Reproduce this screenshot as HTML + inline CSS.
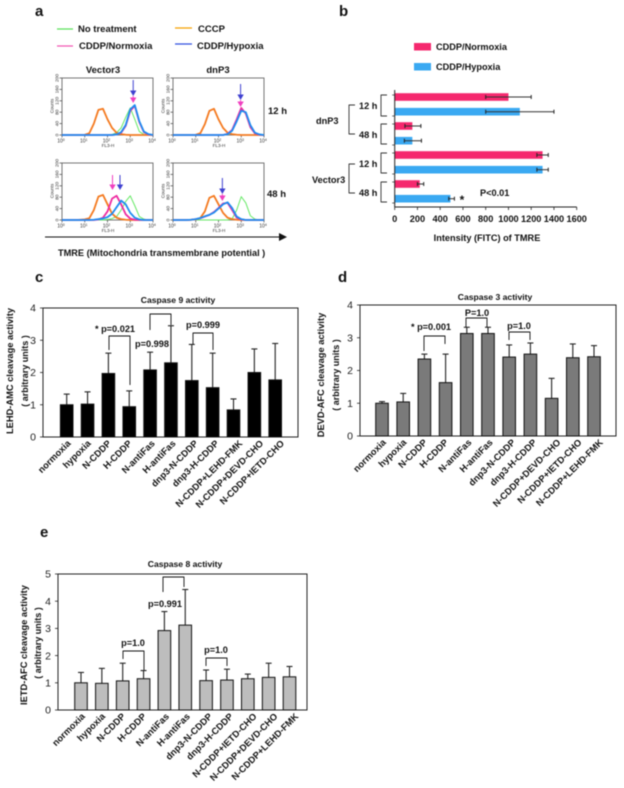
<!DOCTYPE html>
<html>
<head>
<meta charset="utf-8">
<style>
html,body{margin:0;padding:0;background:#fff;}
svg{display:block;filter:blur(0.4px);}
text{font-family:"Liberation Sans",sans-serif;font-weight:bold;fill:#111;}
</style>
</head>
<body>
<svg id="fig" width="624" height="788" viewBox="0 0 624 788" xmlns="http://www.w3.org/2000/svg"></svg>
<script>
// Panel a: flow cytometry histograms (counts at each log10 FL3-H step)
const logFL = [0,0.2,0.4,0.6,0.8,1,1.2,1.4,1.6,1.8,2,2.2,2.4,2.6,2.8,3,3.2,3.4,3.6,3.8,4];
const v12Green = [0,0,0,0,0,0,0,0,0,0,0,2,8,25,62,95,55,12,2,0,0];
const v12Cccp  = [0,0,0,0,0,1,6,40,88,92,55,25,8,3,1,0,0,0,0,0,0];
const v12Pink  = [0,0,0,0,0,0,0,0,0,0,0,0,2,8,32,85,102,45,10,2,0];
const v12Blue  = [0,0,0,0,0,0,0,0,0,0,0,0,2,10,35,90,105,48,12,3,0];
const d12Green = [0,0,0,0,0,0,0,0,0,0,0,1,4,15,50,88,75,25,5,1,0];
const d12Cccp  = [0,0,0,0,0,1,6,38,85,92,55,25,8,3,1,0,0,0,0,0,0];
const d12Pink  = [0,0,0,0,0,0,0,0,0,0,0,0,4,18,55,95,75,28,6,1,0];
const d12Blue  = [0,0,0,0,0,0,0,0,0,0,0,0,3,15,48,85,80,35,8,2,0];
const v48Green = [0,0,0,0,0,0,0,0,0,0,2,5,12,35,65,85,50,12,3,0,0];
const v48Cccp  = [0,0,0,0,1,2,6,35,82,88,55,22,8,3,1,0,0,0,0,0,0];
const v48Pink  = [0,0,0,0,0,0,0,0,2,8,30,75,85,55,20,5,1,0,0,0,0];
const v48Blue  = [0,0,0,0,0,0,0,1,3,5,10,22,45,68,55,25,8,2,0,0,0];
const d48Green = [0,0,0,0,0,0,0,0,0,0,0,0,0,4,35,82,60,15,3,0,0];
const d48Cccp  = [0,0,0,0,1,2,7,30,78,85,55,25,8,3,1,0,0,0,0,0,0];
const d48Pink  = [0,0,0,0,1,3,6,12,18,28,42,58,60,35,8,2,0,0,0,0,0];
const d48Blue  = [0,0,0,0,1,3,7,13,18,26,40,55,62,42,12,3,0,0,0,0,0];
const histYTicks = [0,40,80,120,160,200];
const histXTicks = [0,1,2,3,4];

// Panel b: horizontal bars
const bCategories = ['dnP3 12 h','dnP3 48 h','Vector3 12 h','Vector3 48 h'];
const bNormoxia    = [1000,155,1300,220];
const bNormoxiaLo  = [800,90,1250,200];
const bNormoxiaHi  = [1200,230,1350,255];
const bHypoxia     = [1100,155,1300,490];
const bHypoxiaLo   = [800,85,1250,475];
const bHypoxiaHi   = [1400,235,1350,525];
const bTicks = [0,200,400,600,800,1000,1200,1400,1600];

// Panel c: caspase 9
const cLabels = ['normoxia','hypoxia','N-CDDP','H-CDDP','N-antiFas','H-antiFas','dnp3-N-CDDP','dnp3-H-CDDP','N-CDDP+LEHD-FMK','N-CDDP+DEVD-CHO','N-CDDP+IETD-CHO'];
const cValues = [1.0,1.02,1.97,0.94,2.08,2.3,1.75,1.53,0.84,2.0,1.77];
const cErrTop = [1.33,1.4,2.6,1.43,2.63,3.45,2.87,2.6,1.18,2.73,2.9];
const cTicks = [0,1,2,3,4];

// Panel d: caspase 3
const dLabels = ['normoxia','hypoxia','N-CDDP','H-CDDP','N-antiFas','H-antiFas','dnp3-N-CDDP','dnp3-H-CDDP','N-CDDP+DEVD-CHO','N-CDDP+IETD-CHO','N-CDDP+LEHD-FMK'];
const dValues = [1.0,1.04,2.35,1.63,3.13,3.13,2.41,2.5,1.15,2.39,2.42];
const dErrTop = [1.05,1.3,2.5,2.5,3.32,3.32,2.78,2.84,1.76,2.81,2.76];
const dTicks = [0,1,2,3,4];

// Panel e: caspase 8
const eLabels = ['normoxia','hypoxia','N-CDDP','H-CDDP','N-antiFas','H-antiFas','dnp3-N-CDDP','dnp3-H-CDDP','N-CDDP+IETD-CHO','N-CDDP+DEVD-CHO','N-CDDP+LEHD-FMK'];
const eValues = [1.0,0.98,1.07,1.15,2.92,3.12,1.08,1.1,1.15,1.2,1.22];
const eErrTop = [1.38,1.53,1.72,1.45,3.62,4.43,1.47,1.5,1.32,1.72,1.6];
const eTicks = [0,1,2,3,4,5];

const NS = 'http://www.w3.org/2000/svg';
const svg = document.getElementById('fig');

function mk(tag, name, attrs, parent) {
  const el = document.createElementNS(NS, tag);
  
  
  for (const k in attrs) el.setAttribute(k, attrs[k]);
  (parent || svg).appendChild(el);
  return el;
}
function txt(name, s, x, y, size, opts) {
  const o = opts || {};
  const a = {x: x, y: y, 'font-size': size};
  if (o.anchor) a['text-anchor'] = o.anchor;
  if (o.weight) a.style = 'font-weight:' + o.weight + ';fill:' + (o.fill || '#111');
  if (o.rot !== undefined) a.transform = 'rotate(' + o.rot + ' ' + x + ' ' + y + ')';
  const el = mk('text', name, a, o.parent);
  el.textContent = s;
  return el;
}
function line(name, x1, y1, x2, y2, color, w, parent) {
  return mk('line', name, {x1: x1, y1: y1, x2: x2, y2: y2, stroke: color, 'stroke-width': w}, parent);
}
function poly(name, pts, color, w, parent) {
  return mk('polyline', name, {points: pts.map(p => p.join(',')).join(' '), fill: 'none', stroke: color, 'stroke-width': w, 'stroke-linejoin': 'round'}, parent);
}

// ---------- panel letters ----------
txt('panel-label-a', 'a', 35, 16, 15);
txt('panel-label-b', 'b', 339, 16, 15);
txt('panel-label-c', 'c', 35, 282, 15);
txt('panel-label-d', 'd', 338, 282, 15);
txt('panel-label-e', 'e', 40, 537, 15);

// ---------- panel a ----------
const COL = {green: '#66e866', cccp: '#f47a20', pink: '#ee2aa0', blue: '#1e8cf0'};
line('legend-line-no-treatment', 57, 29, 73, 29, '#55e055', 1.2);
txt('legend-no-treatment', 'No treatment', 78, 32, 9.5);
line('legend-line-cccp', 175, 28, 192, 28, '#f5a000', 1.2);
txt('legend-cccp', 'CCCP', 198, 32, 9.5);
line('legend-line-cddp-normoxia', 57, 46, 73, 46, '#f050b0', 1.2);
txt('legend-cddp-normoxia', 'CDDP/Normoxia', 79, 49, 9.5);
line('legend-line-cddp-hypoxia', 175, 44, 192, 44, '#3050e0', 1.2);
txt('legend-cddp-hypoxia', 'CDDP/Hypoxia', 197, 49, 9.5);
txt('column-title-vector3', 'Vector3', 103, 73, 9.5, {anchor: 'middle'});
txt('column-title-dnp3', 'dnP3', 218, 73, 9.5, {anchor: 'middle'});
txt('row-label-12h', '12 h', 268, 114, 9.5);
txt('row-label-48h', '48 h', 267, 197, 9.5);

function arrow(name, x, y1, y2, color, headW) {
  const g = mk('g', name, {});
  line(name + '-shaft', x, y1, x, y2 - 4, color, 1, g);
  mk('polygon', name + '-head', {points: (x - headW) + ',' + (y2 - 5.5) + ' ' + (x + headW) + ',' + (y2 - 5.5) + ' ' + x + ',' + y2, fill: color}, g);
}

function histogram(name, x0, y0, series, arrows) {
  const W = 91, H = 57;
  const sx = v => x0 + v / 4 * W;
  const sy = v => y0 + H - v / 200 * H;
  const g = mk('g', name, {});
  mk('rect', name + '-frame', {x: x0, y: y0, width: W, height: H, fill: 'none', stroke: '#666', 'stroke-width': 0.9}, g);
  histYTicks.forEach(t => {
    line(name + '-ytick', x0 - 2.5, sy(t), x0, sy(t), '#444', 0.7, g);
    txt(name + '-ytick-label', String(t), x0 - 3.5, sy(t), 4.8, {anchor: 'middle', rot: -90, weight: 'normal', fill: '#333', parent: g});
  });
  histXTicks.forEach(t => {
    line(name + '-xtick', sx(t), y0 + H, sx(t), y0 + H + 2.5, '#444', 0.7, g);
    const lab = txt(name + '-xtick-label', '10', sx(t) - 1, y0 + H + 7.5, 5, {anchor: 'middle', weight: 'normal', fill: '#333', parent: g});
    const sup = document.createElementNS(NS, 'tspan');
    sup.setAttribute('dy', '-1.5');
    sup.setAttribute('font-size', '3.6');
    sup.textContent = String(t);
    lab.appendChild(sup);
  });
  txt(name + '-x-title', 'FL3-H', x0 + 46, y0 + H + 12, 4.6, {anchor: 'middle', weight: 'normal', fill: '#333', parent: g});
  txt(name + '-y-title', 'Counts', x0 - 8.5, y0 + 28, 4.6, {anchor: 'middle', rot: -90, weight: 'normal', fill: '#333', parent: g});
  series.forEach(s => {
    poly(name + '-' + s.key, logFL.map((v, i) => [sx(v), sy(s.data[i])]), COL[s.key], s.w, g);
  });
  arrows.forEach(a => arrow(name + '-arrow-' + a.c, sx(a.log), a.y1, a.y2, a.c === 'pink' ? '#f040c0' : '#3f40d0', 3.2));
}
histogram('histogram-vector3-12h', 62, 78, [
  {key: 'green', data: v12Green, w: 1},
  {key: 'cccp', data: v12Cccp, w: 1.8},
  {key: 'pink', data: v12Pink, w: 1.8},
  {key: 'blue', data: v12Blue, w: 1.8}],
  [{log: 3.13, c: 'blue', y1: 80, y2: 96}, {log: 3.13, c: 'pink', y1: 96, y2: 103}]);
histogram('histogram-dnp3-12h', 173, 78, [
  {key: 'green', data: d12Green, w: 1},
  {key: 'cccp', data: d12Cccp, w: 1.8},
  {key: 'pink', data: d12Pink, w: 1.8},
  {key: 'blue', data: d12Blue, w: 1.8}],
  [{log: 2.97, c: 'blue', y1: 84, y2: 100}, {log: 2.97, c: 'pink', y1: 100, y2: 107}]);
histogram('histogram-vector3-48h', 62, 163, [
  {key: 'green', data: v48Green, w: 1},
  {key: 'cccp', data: v48Cccp, w: 1.8},
  {key: 'pink', data: v48Pink, w: 1.8},
  {key: 'blue', data: v48Blue, w: 1.8}],
  [{log: 2.22, c: 'pink', y1: 175, y2: 190}, {log: 2.55, c: 'blue', y1: 175, y2: 190}]);
histogram('histogram-dnp3-48h', 173, 163, [
  {key: 'green', data: d48Green, w: 1},
  {key: 'cccp', data: d48Cccp, w: 1.8},
  {key: 'pink', data: d48Pink, w: 1.8},
  {key: 'blue', data: d48Blue, w: 1.8}],
  [{log: 2.17, c: 'blue', y1: 178, y2: 194}, {log: 2.17, c: 'pink', y1: 194, y2: 201}]);

line('x-direction-arrow-shaft', 45, 237, 280, 237, '#111', 0.9);
mk('polygon', 'x-direction-arrow-head', {points: '279,233 287,237 279,241', fill: '#111'});
txt('tmre-axis-title', 'TMRE (Mitochondria  transmembrane potential )', 58, 256, 9.2).setAttribute('xml:space', 'preserve');

// ---------- panel b ----------
const bx = v => 394.7 + v / 1600 * 182;
const bRowY = [97, 126, 155, 184];
const bG = mk('g', 'bar-chart-tmre', {});
mk('rect', 'legend-swatch-normoxia', {x: 414, y: 43, width: 17, height: 7.5, fill: '#f5286e'});
txt('legend-normoxia', 'CDDP/Normoxia', 436, 50, 9.2);
mk('rect', 'legend-swatch-hypoxia', {x: 414, y: 63, width: 17, height: 7.5, fill: '#3aa9f2'});
txt('legend-hypoxia', 'CDDP/Hypoxia', 436, 70, 9.2);

function hBar(name, val, lo, hi, y, color) {
  mk('rect', name, {x: bx(0), y: y - 3.8, width: bx(val) - bx(0), height: 7.6, fill: color}, bG);
  line(name + '-error', bx(lo), y, bx(hi), y, '#333', 1, bG);
  line(name + '-error-cap-low', bx(lo), y - 2, bx(lo), y + 2, '#222', 1, bG);
  line(name + '-error-cap-high', bx(hi), y - 2, bx(hi), y + 2, '#222', 1, bG);
}
bCategories.forEach((c, i) => {
  const key = c.toLowerCase().replace(/ /g, '-');
  hBar('bar-normoxia-' + key, bNormoxia[i], bNormoxiaLo[i], bNormoxiaHi[i], bRowY[i], '#f5286e');
  hBar('bar-hypoxia-' + key, bHypoxia[i], bHypoxiaLo[i], bHypoxiaHi[i], bRowY[i] + 14.7, '#3aa9f2');
});
line('b-y-axis', bx(0), 90, bx(0), 207, '#222', 1);
line('b-x-axis', bx(0), 207, bx(1600), 207, '#222', 1);
bTicks.forEach(t => {
  line('b-x-tick', bx(t), 207, bx(t), 210, '#222', 0.8);
  txt('b-x-tick-label', String(t), bx(t), 222, 9.2, {anchor: 'middle'});
});
bRowY.forEach(y => {
  line('b-y-tick', bx(0) - 2.5, y - 2, bx(0), y - 2, '#222', 0.7);
  line('b-y-tick', bx(0) - 2.5, y + 19, bx(0), y + 19, '#222', 0.7);
});
txt('b-x-axis-title', 'Intensity (FITC) of TMRE', 487, 241, 9.2, {anchor: 'middle'});
txt('b-p-value', 'P<0.01', 480, 196, 9.2);
txt('b-significance-star', '*', 462, 204, 12, {anchor: 'middle'});
function sqBracket(name, x1, x2, y1, y2, x3) {
  poly(name, [[x2, y1], [x1, y1], [x1, y2], [x3 === undefined ? x2 : x3, y2]], '#333', 0.9);
}
sqBracket('bracket-dnp3-12h', 381, 387, 95, 116);
sqBracket('bracket-dnp3-48h', 381, 387, 124, 144);
sqBracket('bracket-vector3-12h', 381, 387, 153, 173);
sqBracket('bracket-vector3-48h', 381, 387, 182, 202);
sqBracket('bracket-dnp3', 349, 355, 105, 134);
sqBracket('bracket-vector3', 349, 355, 164, 193);
txt('label-dnp3-12h', '12 h', 359, 109, 9.2);
txt('label-dnp3-48h', '48 h', 359, 138, 9.2);
txt('label-vector3-12h', '12 h', 359, 167, 9.2);
txt('label-vector3-48h', '48 h', 359, 196, 9.2);
txt('label-dnp3', 'dnP3', 316, 124, 9.2);
txt('label-vector3', 'Vector3', 312, 183, 9.2);

// ---------- caspase bar charts ----------
function caspaseChart(cfg) {
  const g = mk('g', cfg.name, {});
  const sy = v => cfg.y0 - v / cfg.max * (cfg.y0 - cfg.y1);
  const sx = i => cfg.first + i * cfg.step;
  mk('rect', cfg.name + '-frame', {x: cfg.x0, y: cfg.y1, width: cfg.x1 - cfg.x0, height: cfg.y0 - cfg.y1, fill: 'none', stroke: '#222', 'stroke-width': 1}, g);
  cfg.ticks.forEach(t => {
    line(cfg.name + '-y-tick', cfg.x0 - 3, sy(t), cfg.x0, sy(t), '#222', 0.8, g);
    txt(cfg.name + '-y-tick-label', String(t), cfg.x0 - 7, sy(t) + 3.7, 10.5, {anchor: 'end', parent: g, weight: 'normal', fill: '#222'});
  });
  cfg.values.forEach((v, i) => {
    line(cfg.name + '-error-bar', sx(i), sy(v), sx(i), sy(cfg.err[i]), '#222', 1.1, g);
    line(cfg.name + '-error-cap', sx(i) - 3, sy(cfg.err[i]), sx(i) + 3, sy(cfg.err[i]), '#222', 1.1, g);
    mk('rect', cfg.name + '-bar-' + cfg.labels[i].toLowerCase().replace(/\+/g, '-'), {x: sx(i) - 6.3, y: sy(v), width: 12.6, height: cfg.y0 - sy(v), fill: cfg.fill, stroke: '#111', 'stroke-width': 1}, g);
    txt(cfg.name + '-x-label', cfg.labels[i], sx(i) + 0.7 * cfg.labels[i].length - 1, cfg.y0 + 7, 9.3, {anchor: 'end', rot: -45, parent: g, fill: '#111'});
  });
  txt(cfg.name + '-title', cfg.title, cfg.titleX, cfg.titleY, 8.6, {anchor: 'middle', parent: g});
  txt(cfg.name + '-y-title', cfg.yTitle, cfg.yx1, cfg.ycy, 9.3, {anchor: 'middle', rot: -90, parent: g});
  txt(cfg.name + '-y-subtitle', '( arbitrary units )', cfg.yx2, cfg.ycy2, 9, {anchor: 'middle', rot: -90, parent: g});
  cfg.brackets.forEach(b => {
    poly(cfg.name + '-bracket', [[b[0], b[3]], [b[0], b[2]], [b[1], b[2]], [b[1], b[4]]], '#111', 0.9, g);
  });
  cfg.notes.forEach(n => txt(cfg.name + '-p-value', n[0], n[1], n[2], 9.2, {anchor: 'middle', parent: g}));
}
caspaseChart({name: 'caspase-9-chart', labels: cLabels, values: cValues, err: cErrTop, ticks: cTicks, max: 4,
  x0: 43, x1: 298, y0: 437, y1: 308, first: 66.7, step: 20.85, fill: '#000',
  title: 'Caspase 9 activity', titleX: 178, titleY: 303,
  yTitle: 'LEHD-AMC cleavage activity', yx1: 13, ycy: 371, yx2: 28, ycy2: 371,
  brackets: [[109, 130, 336, 350, 385], [150, 171, 314, 330, 325], [193, 213, 333, 344, 350]],
  notes: [['* p=0.021', 115, 332], ['p=0.998', 152, 347], ['p=0.999', 203, 328]]});
caspaseChart({name: 'caspase-3-chart', labels: dLabels, values: dValues, err: dErrTop, ticks: dTicks, max: 4,
  x0: 360, x1: 616, y0: 436, y1: 305, first: 382, step: 21.2, fill: '#7a7a7a',
  title: 'Caspase 3 activity', titleX: 495, titleY: 300,
  yTitle: 'DEVD-AFC cleavage activity', yx1: 324, ycy: 375, yx2: 339, ycy2: 375,
  brackets: [[424, 445, 336, 351, 344], [466, 487, 318, 327, 327], [509, 530, 332, 340, 340]],
  notes: [['* p=0.001', 431, 330], ['P=1.0', 477, 316], ['p=1.0', 519, 329]]});
caspaseChart({name: 'caspase-8-chart', labels: eLabels, values: eValues, err: eErrTop, ticks: eTicks, max: 5,
  x0: 58, x1: 307, y0: 710, y1: 574, first: 81, step: 20.85, fill: '#bdbdbd',
  title: 'Caspase 8 activity', titleX: 185, titleY: 567,
  yTitle: 'IETD-AFC cleavage activity', yx1: 27, ycy: 645, yx2: 41, ycy2: 643,
  brackets: [[123, 144, 651, 659, 670], [163, 184, 577, 592, 587], [206, 227, 658, 666, 666]],
  notes: [['p=1.0', 133, 646], ['p=0.991', 165, 607], ['p=1.0', 216, 653]]});
</script>
</body>
</html>
